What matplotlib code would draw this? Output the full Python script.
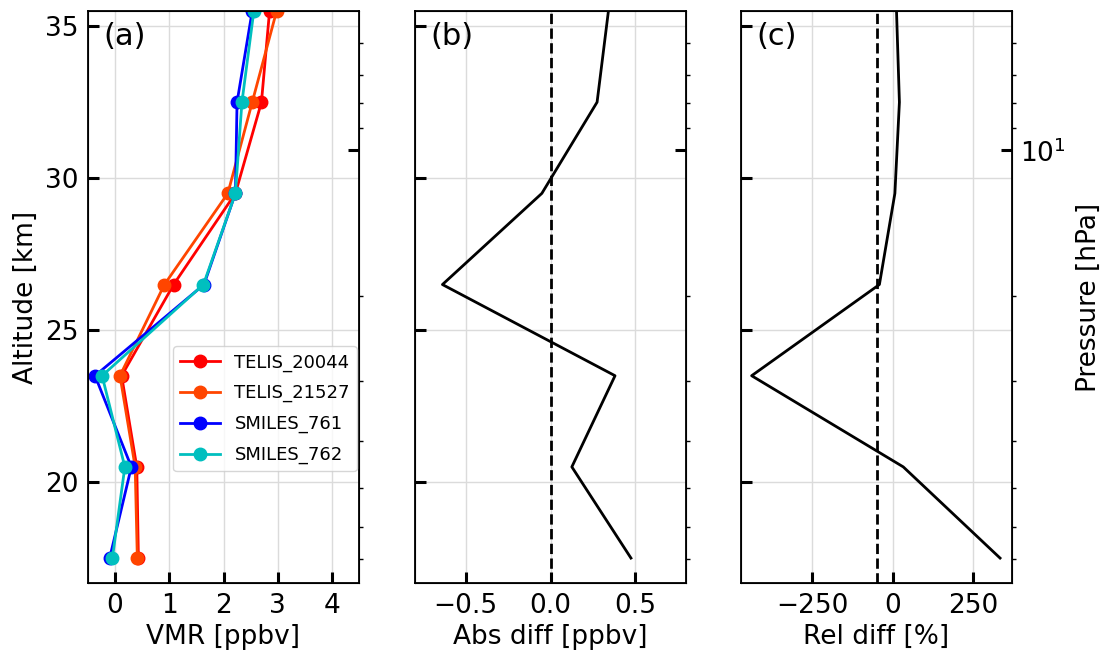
import numpy as np
import matplotlib
matplotlib.use('Agg')
import matplotlib.pyplot as plt
from matplotlib.ticker import NullFormatter, LogLocator

# altitude levels [km]
alt = [17.5, 20.5, 23.5, 26.5, 29.5, 32.5, 35.5]

# VMR profiles [ppbv]
telis_20044 = [0.43, 0.40, 0.12, 1.08, 2.22, 2.70, 2.85]
telis_21527 = [0.41, 0.37, 0.09, 0.91, 2.08, 2.53, 2.98]
smiles_761 = [-0.10, 0.30, -0.37, 1.64, 2.22, 2.25, 2.53]
smiles_762 = [-0.05, 0.18, -0.24, 1.63, 2.22, 2.34, 2.56]

# differences
abs_diff = [0.475, 0.126, 0.381, -0.638, -0.051, 0.275, 0.342]
rel_diff = [333, 33, -437, -41, 7, 21, 12]
abs_ref = 0.0
rel_ref = -48

series = [('TELIS_20044', telis_20044, 'r'),
          ('TELIS_21527', telis_21527, 'orangered'),
          ('SMILES_761', smiles_761, 'b'),
          ('SMILES_762', smiles_762, 'c')]

ylim = (16.68, 35.5)
plim = (78.5, 5.15)   # pressure at bottom / top of the altitude range

plt.rcParams['font.size'] = 19
W, H = 1111, 664
fig = plt.figure(figsize=(W / 100, H / 100), dpi=100)

lefts = [88, 415, 741]
axes = []
for l in lefts:
    ax = fig.add_axes([l / W, (H - 583) / H, 271 / W, 572 / H])
    axes.append(ax)

for i, ax in enumerate(axes):
    ax.set_ylim(*ylim)
    ax.set_yticks([20, 25, 30, 35])
    ax.grid(True, color='0.86', linewidth=1)
    ax.set_axisbelow(True)
    ax.tick_params(which='major', direction='in', length=8, width=2.2,
                   pad=7, top=False, right=False)
    for s in ax.spines.values():
        s.set_linewidth(1.3)
    if i > 0:
        ax.tick_params(labelleft=False)
    # pressure axis
    ax2 = ax.twinx()
    ax2.set_yscale('log')
    ax2.set_ylim(*plim)
    ax2.yaxis.set_major_locator(LogLocator(base=10))
    ax2.yaxis.set_minor_locator(LogLocator(base=10, subs=np.arange(2, 10)))
    ax2.yaxis.set_minor_formatter(NullFormatter())
    ax2.tick_params(which='major', direction='in', length=8, width=2.2, pad=6)
    ax2.tick_params(which='minor', direction='out', length=3, width=1)
    if i < 2:
        ax2.tick_params(which='both', labelright=False)
    else:
        ax2.set_ylabel('Pressure [hPa]', labelpad=7)

ax1, ax2_, ax3 = axes

for name, vals, col in series:
    ax1.plot(vals, alt, '-o', color=col, lw=2, ms=9, label=name)
ax1.set_xlim(-0.5, 4.5)
ax1.set_xticks([0, 1, 2, 3, 4])
ax1.set_xlabel('VMR [ppbv]')
ax1.set_ylabel('Altitude [km]')
ax1.legend(loc='lower right', bbox_to_anchor=(0.993, 0.195), borderaxespad=0,
           fontsize=13, handlelength=2.2, labelspacing=0.7)

ax2_.plot(abs_diff, alt, color='k', lw=2)
ax2_.axvline(abs_ref, color='k', ls='--', lw=2)
ax2_.set_xlim(-0.8, 0.8)
ax2_.set_xticks([-0.5, 0.0, 0.5])
ax2_.set_xlabel('Abs diff [ppbv]')

ax3.plot(rel_diff, alt, color='k', lw=2)
ax3.axvline(rel_ref, color='k', ls='--', lw=2)
ax3.set_xlim(-470, 370)
ax3.set_xticks([-250, 0, 250])
ax3.set_xlabel('Rel diff [%]')

for ax, lab in zip(axes, ['(a)', '(b)', '(c)']):
    ax.text(0.058, 0.955, lab, transform=ax.transAxes, fontsize=22,
            ha='left', va='center')

fig.savefig('out.png', dpi=100)
